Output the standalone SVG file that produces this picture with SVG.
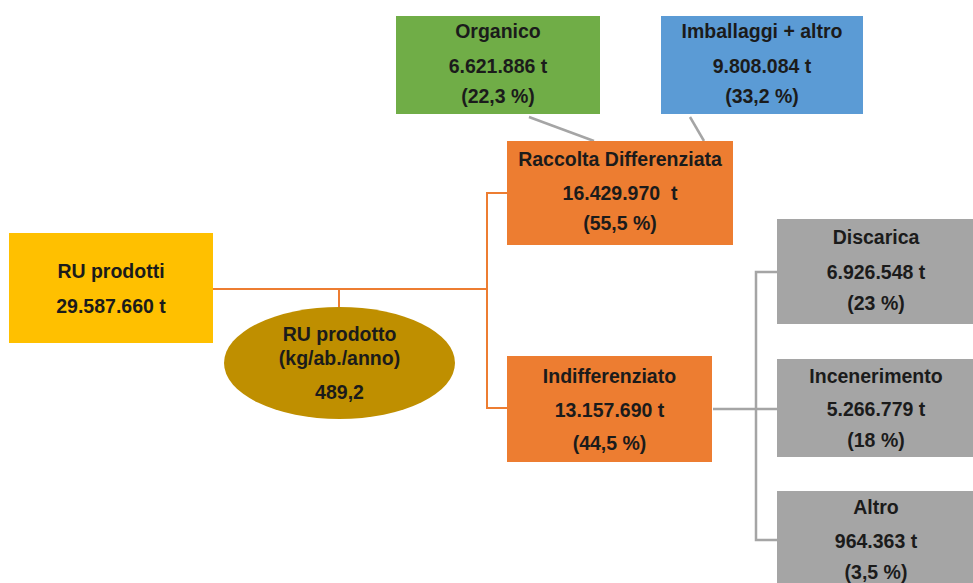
<svg xmlns="http://www.w3.org/2000/svg" width="973" height="583" viewBox="0 0 973 583">
<style>
text{font-family:"Liberation Sans",Arial,sans-serif;font-weight:bold;font-size:19.5px;fill:#1b1b1b;text-anchor:middle}
.or{stroke:#ED7D31;stroke-width:2;fill:none}
.gr{stroke:#A5A5A5;stroke-width:2.5;fill:none}
</style>
<rect width="973" height="583" fill="#fff"/>
<g id="connectors">
<polyline class="or" points="213,289 487,289"/>
<polyline class="or" points="507,193 487,193 487,408 507,408"/>
<line class="or" x1="339" y1="289" x2="339" y2="307"/>
<line class="gr" x1="529" y1="117" x2="594" y2="141" stroke="#999"/>
<line class="gr" x1="690" y1="117" x2="704" y2="141"/>
<polyline class="gr" points="713,409 777,409"/>
<polyline class="gr" points="777,272 756,272 756,540 777,540"/>
</g>
<g id="organico">
<rect x="396" y="16" width="204" height="98" fill="#70AD47"/>
<text x="498" y="38">Organico</text>
<text x="498" y="73">6.621.886 t</text>
<text x="498" y="103">(22,3 %)</text>
</g>
<g id="imballaggi">
<rect x="661" y="16" width="202" height="98" fill="#5B9BD5"/>
<text x="762" y="38">Imballaggi + altro</text>
<text x="762" y="73">9.808.084 t</text>
<text x="762" y="103">(33,2 %)</text>
</g>
<g id="raccolta">
<rect x="507" y="141" width="226" height="104" fill="#ED7D31"/>
<text x="620" y="166">Raccolta Differenziata</text>
<text x="620" y="200" xml:space="preserve">16.429.970  t</text>
<text x="620" y="230">(55,5 %)</text>
</g>
<g id="ru-prodotti">
<rect x="9" y="233" width="204" height="110" fill="#FFC000"/>
<text x="111" y="278">RU prodotti</text>
<text x="111" y="313">29.587.660 t</text>
</g>
<g id="ru-prodotto">
<ellipse cx="339.5" cy="363" rx="115.5" ry="56" fill="#BF8F00"/>
<text x="339.5" y="341">RU prodotto</text>
<text x="339.5" y="365">(kg/ab./anno)</text>
<text x="339.5" y="399">489,2</text>
</g>
<g id="indifferenziato">
<rect x="507" y="356" width="205" height="106" fill="#ED7D31"/>
<text x="609.5" y="383">Indifferenziato</text>
<text x="609.5" y="417">13.157.690 t</text>
<text x="609.5" y="450">(44,5 %)</text>
</g>
<g id="discarica">
<rect x="777" y="219" width="196" height="105" fill="#A5A5A5"/>
<text x="876" y="244">Discarica</text>
<text x="876" y="279">6.926.548 t</text>
<text x="876" y="310">(23 %)</text>
</g>
<g id="incenerimento">
<rect x="777" y="359" width="196" height="98" fill="#A5A5A5"/>
<text x="876" y="383">Incenerimento</text>
<text x="876" y="416">5.266.779 t</text>
<text x="876" y="447">(18 %)</text>
</g>
<g id="altro">
<rect x="777" y="491" width="196" height="92" fill="#A5A5A5"/>
<text x="876" y="514">Altro</text>
<text x="876" y="548">964.363 t</text>
<text x="876" y="579">(3,5 %)</text>
</g>
</svg>
